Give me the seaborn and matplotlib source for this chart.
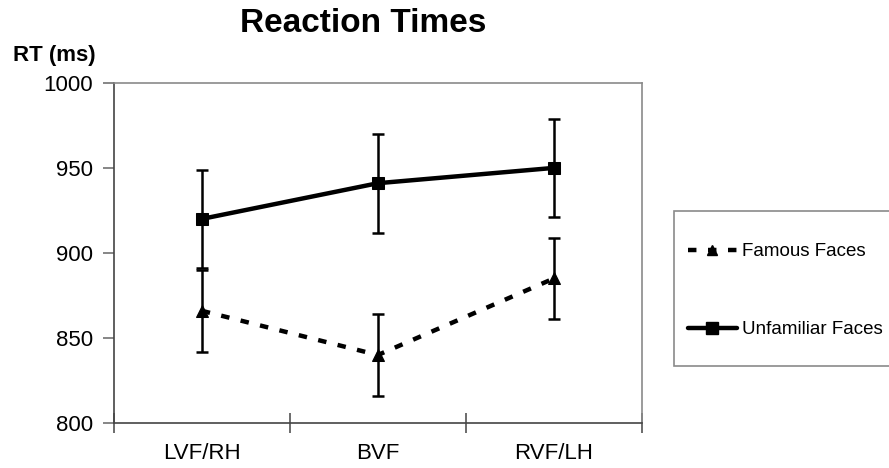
import pandas as pd
import matplotlib.pyplot as plt
import seaborn as sns
from matplotlib.patches import Rectangle

# Values
conditions = ["LVF/RH", "BVF", "RVF/LH"]
famous_rt = [866, 840, 885]
famous_err = [24, 24, 24]
unfamiliar_rt = [920, 941, 950]
unfamiliar_err = [29, 29, 29]

sns.set_style("white")
plt.rcParams["font.family"] = ["Liberation Sans", "DejaVu Sans"]
plt.rcParams["text.color"] = "black"

df = pd.DataFrame({
    "pos": list(range(len(conditions))) * 2,
    "rt": famous_rt + unfamiliar_rt,
    "err": famous_err + unfamiliar_err,
    "group": ["Famous Faces"] * 3 + ["Unfamiliar Faces"] * 3,
})

fig = plt.figure(figsize=(8.89, 4.68), dpi=100)
ax = fig.add_axes([0.128, 0.096, 0.594, 0.727])

# error bars first, lines on top
for name, sub in df.groupby("group"):
    ax.errorbar(sub["pos"], sub["rt"], yerr=sub["err"], fmt="none",
                ecolor="black", elinewidth=1.8, capsize=4.5, capthick=1.8, zorder=2)

dash = (1.9, 2.6)
sns.lineplot(
    data=df, x="pos", y="rt", hue="group", style="group",
    palette={"Famous Faces": "black", "Unfamiliar Faces": "black"},
    dashes={"Famous Faces": dash, "Unfamiliar Faces": ""},
    markers={"Famous Faces": "^", "Unfamiliar Faces": "s"},
    markersize=9, linewidth=3.2, markeredgecolor="black",
    ax=ax, legend=False, zorder=3,
)

ax.set_xlim(-0.5, 2.5)
ax.set_ylim(800, 1000)
ax.set_yticks([800, 850, 900, 950, 1000])
ax.set_xticks(range(len(conditions)))
ax.set_xticklabels(conditions)
ax.set_xticks([-0.5, 0.5, 1.5, 2.5], minor=True)
ax.tick_params(axis="x", which="major", bottom=True, length=0, pad=14,
               labelsize=16, labelcolor="black")
ax.tick_params(axis="x", which="minor", bottom=True, length=14, width=1.1,
               color="#444444", direction="inout")
ax.tick_params(axis="y", left=True, length=8, width=1.1, color="#666666",
               direction="out", labelsize=16, labelcolor="black", pad=7)
ax.set_xlabel("")
ax.set_ylabel("")

for side in ["top", "right"]:
    ax.spines[side].set_color("#8a8a8a")
    ax.spines[side].set_linewidth(1.2)
for side in ["left", "bottom"]:
    ax.spines[side].set_color("#444444")
    ax.spines[side].set_linewidth(1.2)

fig.text(0.015, 0.882, "RT (ms)", fontsize=16, fontweight="bold", ha="left", va="center")
fig.text(0.408, 0.950, "Reaction Times", fontsize=24, fontweight="bold", ha="center", va="center")

# legend box runs off the right edge, as in the original
fig.patches.append(Rectangle((674 / 889, 1 - 366 / 468), 0.3, 155 / 468,
                             transform=fig.transFigure, facecolor="white",
                             edgecolor="#8a8a8a", linewidth=1.2, zorder=0))

handles = [
    plt.Line2D([], [], color="black", linestyle=(0, dash), linewidth=3.2, marker="^", markersize=7),
    plt.Line2D([], [], color="black", linestyle="-", linewidth=3.2, marker="s", markersize=9),
]
leg = fig.legend(
    handles, ["Famous Faces", "Unfamiliar Faces"],
    loc="upper left", bbox_to_anchor=(688 / 889, 1 - 243 / 468),
    fontsize=13.5, frameon=False,
    borderpad=0, labelspacing=3.25, handlelength=2.6, handletextpad=0.3,
    borderaxespad=0,
)

fig.savefig("out.png", dpi=100)
